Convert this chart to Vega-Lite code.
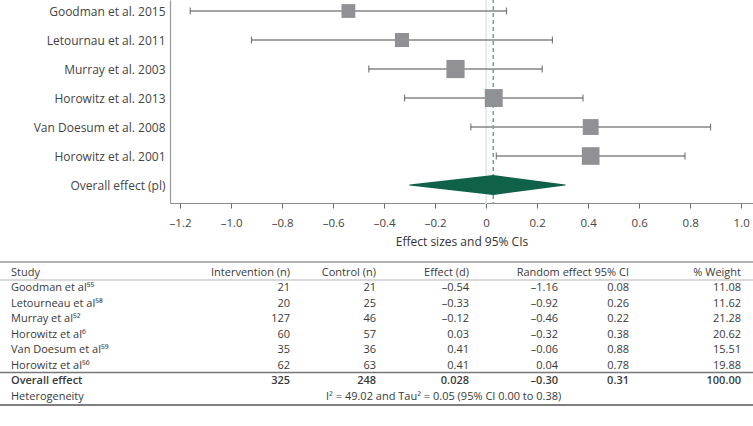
{
  "$schema": "https://vega.github.io/schema/vega-lite/v6.json",
  "width": 753,
  "height": 426,
  "autosize": "none",
  "padding": 0,
  "background": "white",
  "config": {
    "view": {"stroke": null},
    "font": "Open Sans",
    "text": {"fontSize": 11, "color": "#3a3a3a", "baseline": "middle", "font": "Open Sans"},
    "locale": {"number": {"decimal": ".", "thousands": ",", "grouping": [3], "currency": ["$", ""], "minus": "–"}}
  },
  "datasets": {
    "studies": [
      {"label": "Goodman et al. 2015", "study": "Goodman et al⁵⁵", "n_int": 21, "n_ctl": 21, "d": -0.54, "lo": -1.16, "hi": 0.08, "w": 11.08},
      {"label": "Letournau et al. 2011", "study": "Letourneau et al⁵⁸", "n_int": 20, "n_ctl": 25, "d": -0.33, "lo": -0.92, "hi": 0.26, "w": 11.62},
      {"label": "Murray et al. 2003", "study": "Murray et al⁵²", "n_int": 127, "n_ctl": 46, "d": -0.12, "lo": -0.46, "hi": 0.22, "w": 21.28},
      {"label": "Horowitz et al. 2013", "study": "Horowitz et al⁶", "n_int": 60, "n_ctl": 57, "d": 0.03, "lo": -0.32, "hi": 0.38, "w": 20.62},
      {"label": "Van Doesum et al. 2008", "study": "Van Doesum et al⁵⁹", "n_int": 35, "n_ctl": 36, "d": 0.41, "lo": -0.06, "hi": 0.88, "w": 15.51},
      {"label": "Horowitz et al. 2001", "study": "Horowitz et al⁵⁶", "n_int": 62, "n_ctl": 63, "d": 0.41, "lo": 0.04, "hi": 0.78, "w": 19.88}
    ],
    "overall": [
      {"label": "Overall effect (pl)", "study": "Overall effect", "n_int": 325, "n_ctl": 248, "d": 0.028, "lo": -0.30, "hi": 0.31, "w": 100.00}
    ]
  },
  "resolve": {"scale": {"x": "independent", "y": "independent", "size": "independent"}},
  "layer": [
    {
      "layer": [
        {
          "data": {"values": [{}]},
          "mark": {"type": "rule", "color": "#dde5e4", "strokeWidth": 1.5, "yOffset": -12, "y2Offset": 19},
          "encoding": {
            "x": {"datum": 0, "type": "quantitative"},
            "y": {"datum": "Goodman et al. 2015", "type": "nominal"},
            "y2": {"datum": "Overall effect (pl)"}
          }
        },
        {
          "data": {"name": "studies"},
          "mark": {"type": "rule", "color": "#4a4a4a", "strokeWidth": 1.1},
          "encoding": {
            "x": {
              "field": "lo", "type": "quantitative",
              "scale": {"type": "linear", "domain": [-1.2395, 1.0465], "range": [170, 753], "nice": false, "zero": false},
              "axis": {
                "orient": "bottom", "offset": -223, "grid": false,
                "values": [-1.2, -1.1, -1.0, -0.9, -0.8, -0.7, -0.6, -0.5, -0.4, -0.3, -0.2, -0.1, 0, 0.1, 0.2, 0.3, 0.4, 0.5, 0.6, 0.7, 0.8, 0.9, 1.0],
                "format": ".1f",
                "labelExpr": "abs(round(datum.value*10)) % 2 == 0 ? (datum.value == 0 ? '0' : datum.label) : ''",
                "tickSize": {"condition": {"test": "abs(round(datum.value*10)) % 2 == 0", "value": 5}, "value": 2.5},
                "tickColor": "#666666", "tickWidth": 1,
                "domainColor": "#8a8a8a", "domainWidth": 1.2,
                "labelFontSize": 11.5, "labelColor": "#444444", "labelPadding": 9, "labelFlush": false, "labelOverlap": false,
                "title": "Effect sizes and 95% CIs", "titleFontSize": 12, "titleFontWeight": "normal", "titleColor": "#333333", "titlePadding": 8
              }
            },
            "x2": {"field": "hi"},
            "y": {
              "field": "label", "type": "nominal",
              "scale": {"type": "point", "domain": ["Goodman et al. 2015", "Letournau et al. 2011", "Murray et al. 2003", "Horowitz et al. 2013", "Van Doesum et al. 2008", "Horowitz et al. 2001", "Overall effect (pl)"], "range": [0, 203], "paddingOuter": 0.524, "align": 0.38, "round": false},
              "axis": {"orient": "left", "offset": -170, "title": null, "ticks": false, "labelPadding": 5, "labelFontSize": 12, "labelColor": "#444444", "domainColor": "#9a9a9a", "domainWidth": 1.2, "grid": false, "labelLimit": 200}
            }
          }
        },
        {
          "data": {"name": "studies"},
          "mark": {"type": "tick", "color": "#4a4a4a", "thickness": 1.2, "size": 7},
          "encoding": {
            "x": {"field": "lo", "type": "quantitative"},
            "y": {"field": "label", "type": "nominal"}
          }
        },
        {
          "data": {"name": "studies"},
          "mark": {"type": "tick", "color": "#4a4a4a", "thickness": 1.2, "size": 7},
          "encoding": {
            "x": {"field": "hi", "type": "quantitative"},
            "y": {"field": "label", "type": "nominal"}
          }
        },
        {
          "data": {"name": "studies"},
          "mark": {"type": "point", "shape": "square", "filled": true, "color": "#909095", "opacity": 1},
          "encoding": {
            "x": {"field": "d", "type": "quantitative"},
            "y": {"field": "label", "type": "nominal"},
            "size": {"field": "w", "type": "quantitative", "scale": {"domain": [11.08, 21.28], "range": [190, 330]}, "legend": null}
          }
        },
        {
          "data": {"name": "overall"},
          "mark": {"type": "rule", "color": "#74a095", "strokeWidth": 1.5, "strokeDash": [4, 3], "yOffset": -12, "y2Offset": 19},
          "encoding": {
            "x": {"field": "d", "type": "quantitative"},
            "y": {"datum": "Goodman et al. 2015", "type": "nominal"},
            "y2": {"datum": "Overall effect (pl)"}
          }
        },
        {
          "data": {"name": "overall"},
          "transform": [{"fold": ["lo", "d", "hi"], "as": ["key", "value"]}],
          "mark": {"type": "trail", "color": "#0f614a"},
          "encoding": {
            "x": {"field": "value", "type": "quantitative"},
            "y": {"field": "label", "type": "nominal"},
            "order": {"field": "value", "type": "quantitative"},
            "size": {"condition": {"test": "datum.key == 'd'", "value": 20}, "value": 0}
          }
        }
      ]
    },
    {
      "layer": [
        {
          "data": {"values": [{}]},
          "mark": {"type": "text", "align": "left", "text": "Study"},
          "encoding": {
            "x": {"datum": 0, "type": "quantitative", "axis": null,
                  "scale": {"type": "linear", "domain": [0, 1, 2, 3, 4, 5, 6], "range": [11, 290, 376, 469, 558, 629, 741], "nice": false, "zero": false}},
            "y": {"datum": "Study", "type": "nominal", "axis": null,
                  "scale": {"type": "point", "domain": ["Study", "Goodman et al⁵⁵", "Letourneau et al⁵⁸", "Murray et al⁵²", "Horowitz et al⁶", "Van Doesum et al⁵⁹", "Horowitz et al⁵⁶", "Overall effect", "Heterogeneity"], "range": [272.5, 397], "padding": 0, "round": false}}
          }
        },
        {"data": {"values": [{}]}, "mark": {"type": "text", "align": "right", "text": "Intervention (n)"},
         "encoding": {"x": {"datum": 1, "type": "quantitative", "axis": null}, "y": {"datum": "Study", "type": "nominal", "axis": null}}},
        {"data": {"values": [{}]}, "mark": {"type": "text", "align": "right", "text": "Control (n)"},
         "encoding": {"x": {"datum": 2, "type": "quantitative", "axis": null}, "y": {"datum": "Study", "type": "nominal", "axis": null}}},
        {"data": {"values": [{}]}, "mark": {"type": "text", "align": "right", "text": "Effect (d)"},
         "encoding": {"x": {"datum": 3, "type": "quantitative", "axis": null}, "y": {"datum": "Study", "type": "nominal", "axis": null}}},
        {"data": {"values": [{}]}, "mark": {"type": "text", "align": "right", "text": "Random effect 95% CI"},
         "encoding": {"x": {"datum": 5, "type": "quantitative", "axis": null}, "y": {"datum": "Study", "type": "nominal", "axis": null}}},
        {"data": {"values": [{}]}, "mark": {"type": "text", "align": "right", "text": "% Weight"},
         "encoding": {"x": {"datum": 6, "type": "quantitative", "axis": null}, "y": {"datum": "Study", "type": "nominal", "axis": null}}},

        {"data": {"name": "studies"}, "mark": {"type": "text", "align": "left"},
         "encoding": {"x": {"datum": 0, "type": "quantitative", "axis": null}, "y": {"field": "study", "type": "nominal", "axis": null}, "text": {"field": "study"}}},
        {"data": {"name": "studies"}, "mark": {"type": "text", "align": "right"},
         "encoding": {"x": {"datum": 1, "type": "quantitative", "axis": null}, "y": {"field": "study", "type": "nominal", "axis": null}, "text": {"field": "n_int", "type": "quantitative", "format": "d"}}},
        {"data": {"name": "studies"}, "mark": {"type": "text", "align": "right"},
         "encoding": {"x": {"datum": 2, "type": "quantitative", "axis": null}, "y": {"field": "study", "type": "nominal", "axis": null}, "text": {"field": "n_ctl", "type": "quantitative", "format": "d"}}},
        {"data": {"name": "studies"}, "mark": {"type": "text", "align": "right"},
         "encoding": {"x": {"datum": 3, "type": "quantitative", "axis": null}, "y": {"field": "study", "type": "nominal", "axis": null}, "text": {"field": "d", "type": "quantitative", "format": ".2f"}}},
        {"data": {"name": "studies"}, "mark": {"type": "text", "align": "right"},
         "encoding": {"x": {"datum": 4, "type": "quantitative", "axis": null}, "y": {"field": "study", "type": "nominal", "axis": null}, "text": {"field": "lo", "type": "quantitative", "format": ".2f"}}},
        {"data": {"name": "studies"}, "mark": {"type": "text", "align": "right"},
         "encoding": {"x": {"datum": 5, "type": "quantitative", "axis": null}, "y": {"field": "study", "type": "nominal", "axis": null}, "text": {"field": "hi", "type": "quantitative", "format": ".2f"}}},
        {"data": {"name": "studies"}, "mark": {"type": "text", "align": "right"},
         "encoding": {"x": {"datum": 6, "type": "quantitative", "axis": null}, "y": {"field": "study", "type": "nominal", "axis": null}, "text": {"field": "w", "type": "quantitative", "format": ".2f"}}},

        {"data": {"name": "overall"}, "mark": {"type": "text", "align": "left", "fontWeight": 600},
         "encoding": {"x": {"datum": 0, "type": "quantitative", "axis": null}, "y": {"field": "study", "type": "nominal", "axis": null}, "text": {"field": "study"}}},
        {"data": {"name": "overall"}, "mark": {"type": "text", "align": "right", "fontWeight": 600},
         "encoding": {"x": {"datum": 1, "type": "quantitative", "axis": null}, "y": {"field": "study", "type": "nominal", "axis": null}, "text": {"field": "n_int", "type": "quantitative", "format": "d"}}},
        {"data": {"name": "overall"}, "mark": {"type": "text", "align": "right", "fontWeight": 600},
         "encoding": {"x": {"datum": 2, "type": "quantitative", "axis": null}, "y": {"field": "study", "type": "nominal", "axis": null}, "text": {"field": "n_ctl", "type": "quantitative", "format": "d"}}},
        {"data": {"name": "overall"}, "mark": {"type": "text", "align": "right", "fontWeight": 600},
         "encoding": {"x": {"datum": 3, "type": "quantitative", "axis": null}, "y": {"field": "study", "type": "nominal", "axis": null}, "text": {"field": "d", "type": "quantitative", "format": ".3f"}}},
        {"data": {"name": "overall"}, "mark": {"type": "text", "align": "right", "fontWeight": 600},
         "encoding": {"x": {"datum": 4, "type": "quantitative", "axis": null}, "y": {"field": "study", "type": "nominal", "axis": null}, "text": {"field": "lo", "type": "quantitative", "format": ".2f"}}},
        {"data": {"name": "overall"}, "mark": {"type": "text", "align": "right", "fontWeight": 600},
         "encoding": {"x": {"datum": 5, "type": "quantitative", "axis": null}, "y": {"field": "study", "type": "nominal", "axis": null}, "text": {"field": "hi", "type": "quantitative", "format": ".2f"}}},
        {"data": {"name": "overall"}, "mark": {"type": "text", "align": "right", "fontWeight": 600},
         "encoding": {"x": {"datum": 6, "type": "quantitative", "axis": null}, "y": {"field": "study", "type": "nominal", "axis": null}, "text": {"field": "w", "type": "quantitative", "format": ".2f"}}},

        {"data": {"values": [{}]}, "mark": {"type": "text", "align": "left", "text": "Heterogeneity"},
         "encoding": {"x": {"datum": 0, "type": "quantitative", "axis": null}, "y": {"datum": "Heterogeneity", "type": "nominal", "axis": null}}},
        {"data": {"values": [{}]}, "mark": {"type": "text", "align": "left", "dx": -50, "text": "I² = 49.02 and Tau² = 0.05 (95% CI 0.00 to 0.38)"},
         "encoding": {"x": {"datum": 2, "type": "quantitative", "axis": null}, "y": {"datum": "Heterogeneity", "type": "nominal", "axis": null}}},

        {"data": {"values": [{}]}, "mark": {"type": "rule", "color": "#9a9a9a", "strokeWidth": 1.5, "yOffset": -10.5},
         "encoding": {"y": {"datum": "Study", "type": "nominal", "axis": null}}},
        {"data": {"values": [{}]}, "mark": {"type": "rule", "color": "#b5b5b5", "strokeWidth": 1, "yOffset": 7.5},
         "encoding": {"y": {"datum": "Study", "type": "nominal", "axis": null}}},
        {"data": {"values": [{}]}, "mark": {"type": "rule", "color": "#777777", "strokeWidth": 1.5, "yOffset": -9},
         "encoding": {"y": {"datum": "Overall effect", "type": "nominal", "axis": null}}},
        {"data": {"values": [{}]}, "mark": {"type": "rule", "color": "#555555", "strokeWidth": 1.5, "yOffset": 8},
         "encoding": {"y": {"datum": "Heterogeneity", "type": "nominal", "axis": null}}}
      ]
    }
  ]
}
